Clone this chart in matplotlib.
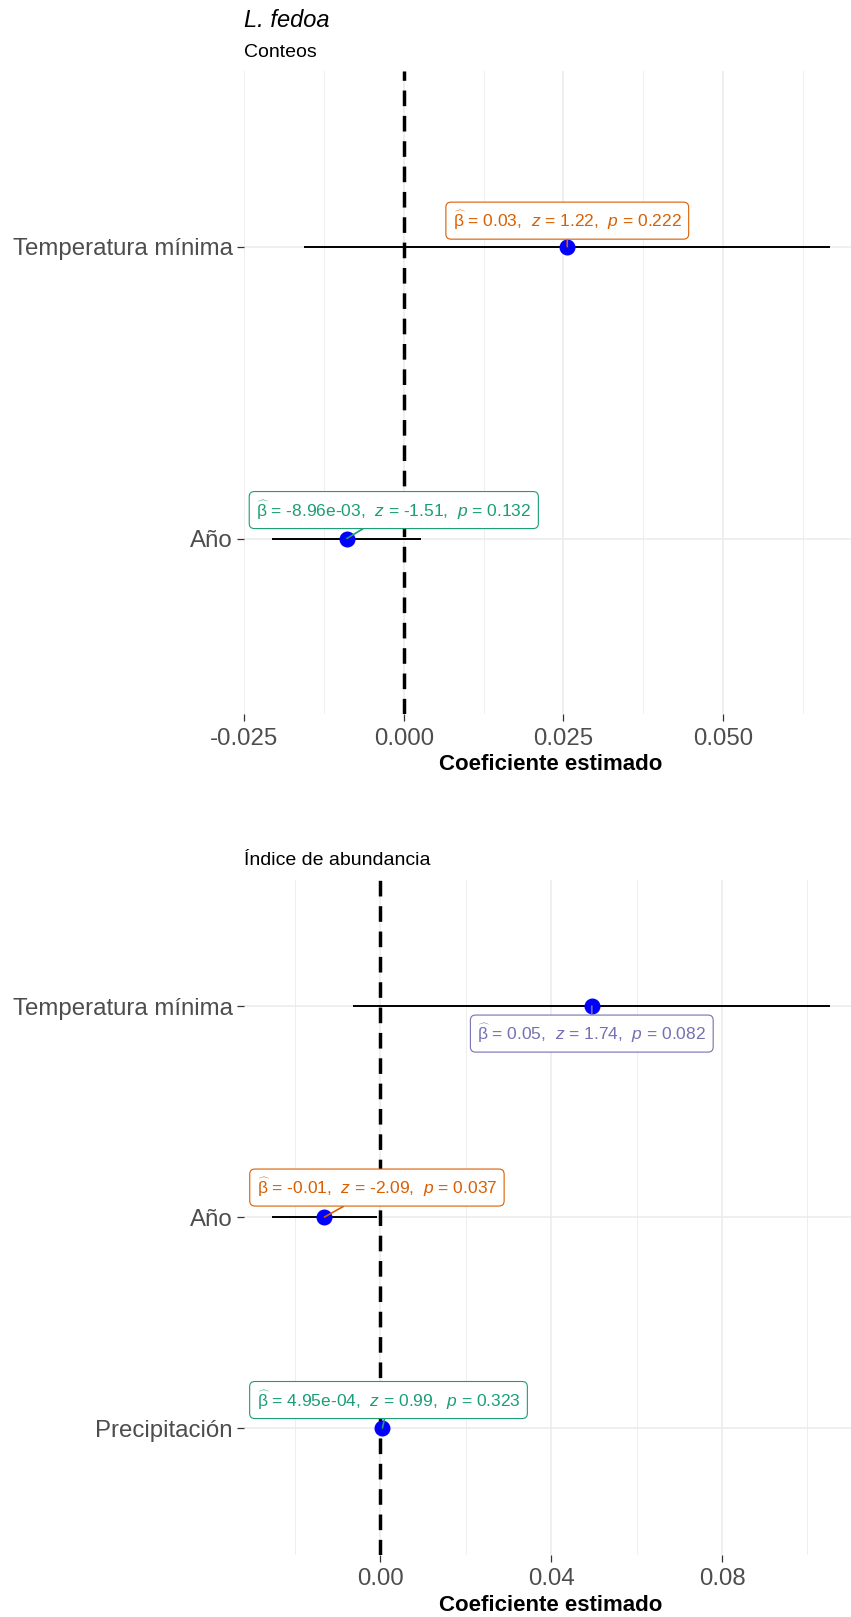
import matplotlib
matplotlib.use("Agg")
import matplotlib.pyplot as plt
import numpy as np
from matplotlib.ticker import FixedLocator, FormatStrFormatter

plt.rcParams['font.family'] = ['Liberation Sans', 'DejaVu Sans']
plt.rcParams['mathtext.fontset'] = 'custom'
plt.rcParams['mathtext.rm'] = 'Liberation Sans'
plt.rcParams['mathtext.it'] = 'Liberation Sans:italic'
plt.rcParams['mathtext.bf'] = 'Liberation Sans:bold'

# ---- Conteos (counts model) ----
cnt_terms = ['Temperatura mínima', 'Año']
cnt_est = [0.0256, -0.00896]
cnt_lo = [-0.0156, -0.0207]
cnt_hi = [0.0668, 0.0027]
cnt_z = [1.22, -1.51]
cnt_p = [0.222, 0.132]

# ---- Indice de abundancia ----
idx_terms = ['Temperatura mínima', 'Año', 'Precipitación']
idx_est = [0.0495, -0.0131, 0.000495]
idx_lo = [-0.0063, -0.0254, -0.0005]
idx_hi = [0.1053, -0.0008, 0.0015]
idx_z = [1.74, -2.09, 0.99]
idx_p = [0.082, 0.037, 0.323]

ORANGE, GREEN, PURPLE = '#D95F02', '#1B9E77', '#7570B3'
W, H = 851, 1617
TICK_GREY = '#4D4D4D'


def fmt_est(v):
    if abs(v) < 0.01:
        return '%.2e' % v
    return '%.2f' % v


def add_panel(box, terms, est, lo, hi, zs, ps, colors, offsets, ticks, minor, tickfmt):
    l, t, r, b = box
    ax = fig.add_axes([l / W, 1 - b / H, (r - l) / W, (b - t) / H])
    n = len(terms)
    y = np.arange(n)
    span = max(hi) - min(lo)
    ax.set_xlim(min(lo) - 0.05 * span, max(hi) + 0.05 * span)
    ax.set_ylim(n - 1 + 0.6, -0.6)

    ax.xaxis.set_major_locator(FixedLocator(ticks))
    ax.xaxis.set_minor_locator(FixedLocator(minor))
    ax.xaxis.set_major_formatter(FormatStrFormatter(tickfmt))
    ax.set_yticks(y)
    ax.set_yticklabels(terms)

    ax.grid(which='major', color='#EBEBEB', lw=1.1)
    ax.grid(which='minor', axis='x', color='#EBEBEB', lw=0.6)
    ax.set_axisbelow(True)
    for s in ax.spines.values():
        s.set_visible(False)
    ax.tick_params(axis='both', which='major', length=5, width=0.9, color='#333333',
                   labelsize=17.3, labelcolor=TICK_GREY, pad=3)
    ax.tick_params(axis='x', which='major', pad=5)
    ax.tick_params(axis='x', which='minor', length=0)

    ax.axvline(0, color='black', lw=2.5, ls=(0, (4.5, 2.8)), zorder=2)
    ax.hlines(y, lo, hi, color='black', lw=1.4, zorder=3)
    ax.plot(est, y, 'o', color='#0000FF', ms=10.5, zorder=5)

    for i in range(n):
        txt = (r'$\widehat{\mathrm{\beta}}$ = ' + fmt_est(est[i]) +
               r',  $z$ = %.2f,  $p$ = %.3f' % (zs[i], ps[i]))
        c = colors[i]
        ax.annotate(txt, xy=(est[i], y[i]), xytext=offsets[i], textcoords='offset pixels',
                    ha='center', va='center', fontsize=12.5, color=c, zorder=6,
                    bbox=dict(boxstyle='round,pad=0.4,rounding_size=0.3',
                              fc='white', ec=c, lw=0.8),
                    arrowprops=dict(arrowstyle='-', color=c, lw=1.2,
                                    shrinkA=0, shrinkB=0))

    ax.set_xlabel('Coeficiente estimado', fontsize=16, fontweight='bold',
                  color='black', labelpad=3.5)
    return ax


fig = plt.figure(figsize=(W / 100, H / 100), dpi=100)

add_panel((244, 71.5, 858, 713.7), cnt_terms, cnt_est, cnt_lo, cnt_hi, cnt_z, cnt_p,
          [ORANGE, GREEN], [(0, 26), (47, 28.5)],
          [-0.025, 0.0, 0.025, 0.05], [-0.0125, 0.0125, 0.0375, 0.0625], '%.3f')

add_panel((244, 879.5, 858, 1554.6), idx_terms, idx_est, idx_lo, idx_hi, idx_z, idx_p,
          [PURPLE, ORANGE, GREEN], [(0, -27.5), (52.5, 29.5), (6, 28)],
          [0.0, 0.04, 0.08], [-0.02, 0.02, 0.06, 0.10], '%.2f')

fig.text(244 / W, 1 - 27 / H, 'L. fedoa', style='italic', fontsize=17, va='baseline')
fig.text(244 / W, 1 - 57 / H, 'Conteos', fontsize=14, va='baseline')
fig.text(244 / W, 1 - 865 / H, 'Índice de abundancia', fontsize=14, va='baseline')

fig.savefig('out.png', dpi=100, facecolor='white')
